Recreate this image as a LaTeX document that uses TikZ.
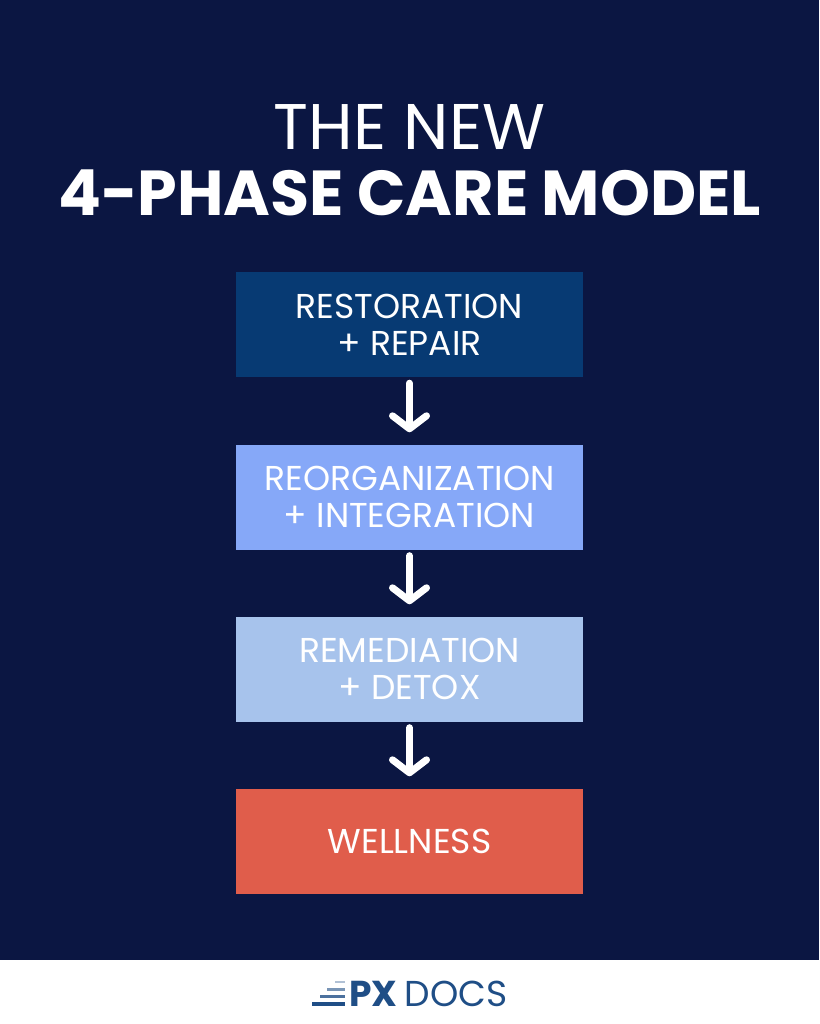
\documentclass[tikz,border=0pt]{standalone}
\usepackage{fontspec}
\setmainfont{Poppins}
\usetikzlibrary{arrows.meta}
\definecolor{navy}{HTML}{0B1642}
\definecolor{cA}{HTML}{073A73}
\definecolor{cB}{HTML}{86A8F8}
\definecolor{cC}{HTML}{A7C3EC}
\definecolor{cD}{HTML}{E05D4B}
\definecolor{logo}{HTML}{1F4E86}
\begin{document}
\begin{tikzpicture}[x=1pt,y=-1pt,
  phase/.style={minimum width=347pt,minimum height=105pt,inner sep=0pt,align=center,text=white,font=\fontsize{34.5}{37}\selectfont},
  flow/.style={draw=white,line width=7pt,line cap=round,line join=round,shorten <=6pt,shorten >=12pt,-{Straight Barb[length=13pt,width=34pt,round]}}]
\useasboundingbox (0,0) rectangle (819,1024);
\fill[navy] (0,0) rectangle (819,960);
\fill[white] (0,960) rectangle (819,1024);
\node[text=white,font=\fontsize{64.5}{64}\selectfont] (t1) at (409.5,127) {THE NEW};
\node[text=white,font=\bfseries\fontsize{63.5}{64}\selectfont] (t2) at (409.5,193) {4-PHASE CARE MODEL};
\node[phase,fill=cA] (b1) at (409.5,324.5) {RESTORATION\\+ REPAIR};
\node[phase,fill=cB] (b2) at (409.5,497) {REORGANIZATION\\+ INTEGRATION};
\node[phase,fill=cC] (b3) at (409.5,669) {REMEDIATION\\+ DETOX};
\node[phase,fill=cD] (b4) at (409.5,841) {WELLNESS};
\draw[flow] (b1.south) -- (b2.north);
\draw[flow] (b2.south) -- (b3.north);
\draw[flow] (b3.south) -- (b4.north);
\fill[logo!35] (335,981) rectangle (345,983);
\fill[logo!60] (327,988) rectangle (345,990.5);
\fill[logo!80] (320,995) rectangle (345,998);
\fill[logo] (312,1002) rectangle (345,1005.5);
\node[anchor=base west,text=logo,inner sep=0pt,font=\bfseries\fontsize{36}{36}\selectfont] (px) at (349,1006) {PX};
\node[anchor=base west,text=logo,inner sep=0pt,font=\fontsize{36}{36}\selectfont] (docs) at ([xshift=7pt]px.base east) {DOCS};
\end{tikzpicture}
\end{document}
